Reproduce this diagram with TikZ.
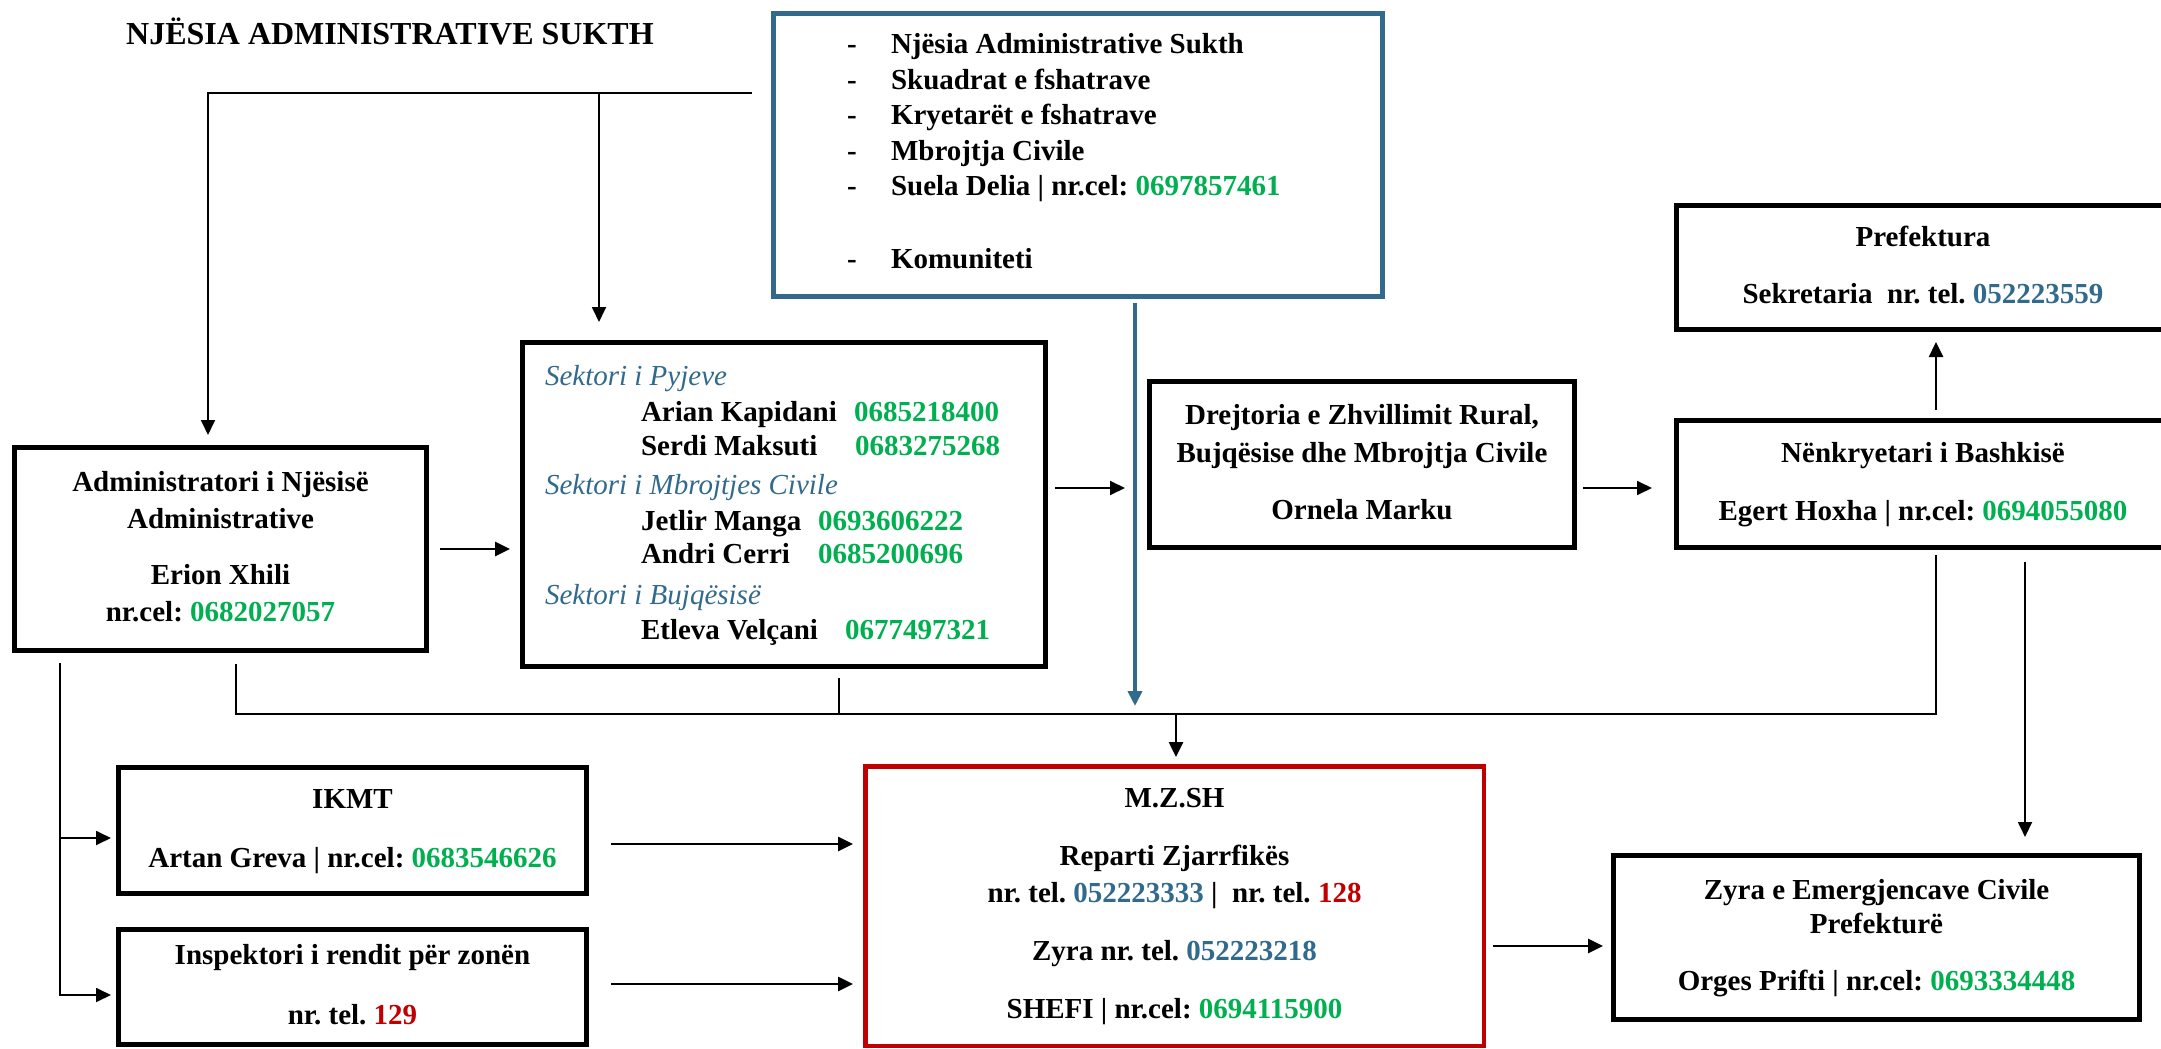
\documentclass[tikz,border=0pt]{standalone}
\usepackage{fontspec}
\setmainfont{Liberation Serif}
\usetikzlibrary{arrows.meta,calc}
\definecolor{bluec}{RGB}{49,106,140}
\definecolor{greenc}{RGB}{0,176,80}
\definecolor{redc}{RGB}{192,0,0}
\newcommand{\gn}[1]{\textcolor{greenc}{#1}}
\newcommand{\bln}[1]{\textcolor{bluec}{#1}}
\newcommand{\rdn}[1]{\textcolor{redc}{#1}}
\frenchspacing
\begin{document}
\begin{tikzpicture}[x=1pt,y=-1pt,
  every node/.style={inner sep=0pt, outer sep=0pt, font=\fontsize{29}{36}\selectfont\bfseries\frenchspacing},
  box/.style={draw=black, line width=5pt},
  redbox/.style={draw=redc, line width=4.5pt},
  bluebox/.style={draw=bluec, line width=5pt},
  tip/.style={-{Triangle[length=15pt,width=14pt]}},
  thinc/.style={line width=1.8pt},
  medc/.style={line width=2.6pt},
  bluec/.style={line width=4pt, draw=bluec, -{Triangle[length=15pt,width=14pt]}},
]
\useasboundingbox (0,0) rectangle (2161,1049);
\fill[white] (0,0) rectangle (2161,1049);
\clip (0,0) rectangle (2161,1049);

% title
\node[anchor=base] (title) at (390,44.5) {\fontsize{32}{36}\selectfont NJËSIA ADMINISTRATIVE SUKTH};

% top blue box
\node[bluebox, minimum width=609pt, minimum height=283pt] (blue) at (1078,155) {};
\node[anchor=base west] (bluetxt) at (847,54) {\begin{tabular}[t]{@{}l@{}}
\makebox[44pt][l]{-}Njësia Administrative Sukth\\[-0.5pt]
\makebox[44pt][l]{-}Skuadrat e fshatrave\\[-0.5pt]
\makebox[44pt][l]{-}Kryetarët e fshatrave\\[-0.5pt]
\makebox[44pt][l]{-}Mbrojtja Civile\\[-0.5pt]
\makebox[44pt][l]{-}Suela Delia | nr.cel: \gn{0697857461}\\[37pt]
\makebox[44pt][l]{-}Komuniteti
\end{tabular}};

% administrator
\node[box, minimum width=412pt, minimum height=203pt] (admin) at (220.5,549) {\begin{tabular}{@{}c@{}}
Administratori i Njësisë\\[1pt]
Administrative\\[20pt]
Erion Xhili\\[1pt]
nr.cel: \gn{0682027057}
\end{tabular}};

% sectors
\node[box, minimum width=523pt, minimum height=324pt] (sek) at (784,504.5) {};
\node[anchor=base west] (sektxt) at (545,385) {\begin{tabular}[t]{@{}l@{}}
{\mdseries\itshape\color{bluec}Sektori i Pyjeve}\\
\hspace*{96pt}\makebox[213pt][l]{Arian Kapidani}\gn{0685218400}\\[-2pt]
\hspace*{96pt}\makebox[214pt][l]{Serdi Maksuti}\gn{0683275268}\\[3pt]
{\mdseries\itshape\color{bluec}Sektori i Mbrojtjes Civile}\\
\hspace*{96pt}\makebox[177pt][l]{Jetlir Manga}\gn{0693606222}\\[-3pt]
\hspace*{96pt}\makebox[177pt][l]{Andri Cerri}\gn{0685200696}\\[5pt]
{\mdseries\itshape\color{bluec}Sektori i Bujqësisë}\\[-1pt]
\hspace*{96pt}\makebox[204pt][l]{Etleva Velçani}\gn{0677497321}
\end{tabular}};

% drejtoria
\node[box, minimum width=425pt, minimum height=166pt] (drej) at (1362,464.5) {\begin{tabular}{@{}c@{}}
Drejtoria e Zhvillimit Rural,\\[2pt]
Bujqësise dhe Mbrojtja Civile\\[21pt]
Ornela Marku
\end{tabular}};

% prefektura
\node[box, minimum width=493pt, minimum height=124pt] (pref) at (1923,267.5) {\begin{tabular}{@{}c@{}}
Prefektura\\[21pt]
Sekretaria\ \ nr. tel. \bln{052223559}
\end{tabular}};

% nenkryetari
\node[box, minimum width=493pt, minimum height=127pt] (nenk) at (1923,484) {\begin{tabular}{@{}c@{}}
Nënkryetari i Bashkisë\\[22pt]
Egert Hoxha | nr.cel: \gn{0694055080}
\end{tabular}};

% IKMT
\node[box, minimum width=468pt, minimum height=126pt] (ikmt) at (352.5,830.5) {\begin{tabular}{@{}c@{}}
IKMT\\[23pt]
Artan Greva | nr.cel: \gn{0683546626}
\end{tabular}};

% Inspektori
\node[box, minimum width=468pt, minimum height=115pt] (insp) at (352.5,987) {\begin{tabular}{@{}c@{}}
Inspektori i rendit për zonën\\[24pt]
nr. tel. \rdn{129}
\end{tabular}};

% MZSH
\node[redbox, minimum width=618.5pt, minimum height=279.5pt] (mzsh) at (1174.5,906) {\begin{tabular}{@{}c@{}}
M.Z.SH\\[22pt]
Reparti Zjarrfikës\\[1pt]
nr. tel. \bln{052223333} |\ \ nr. tel. \rdn{128}\\[22pt]
Zyra nr. tel. \bln{052223218}\\[22pt]
SHEFI | nr.cel: \gn{0694115900}
\end{tabular}};

% Zyra
\node[box, minimum width=526pt, minimum height=164pt] (zyra) at (1876.5,937.5) {\begin{tabular}{@{}c@{}}
Zyra e Emergjencave Civile\\[-2pt]
Prefekturë\\[21pt]
Orges Prifti | nr.cel: \gn{0693334448}
\end{tabular}};

% ---- connectors ----
\coordinate (topR) at (752,93);
\coordinate (admIn) at ($(admin.north)+(-12.5,0)$);
\coordinate (sekIn) at ($(sek.north)+(-185,0)$);
\draw[thinc,tip,shorten >=12.5pt] (topR) -| (admIn);
\draw[thinc,tip,shorten >=20.5pt] (sekIn |- topR) -- (sekIn);

\draw[medc,tip,shorten <=13.5pt,shorten >=12.5pt] (admin.east) -- (admin.east -| sek.west);

\coordinate (sd) at ($(sek.east)+(0,-16.5)$);
\draw[thinc,tip,shorten <=9.5pt,shorten >=24.5pt] (sd) -- (sd -| drej.west);

\coordinate (dn) at ($(drej.east)+(0,23.5)$);
\draw[thinc,tip,shorten <=8.5pt,shorten >=24.5pt] (dn) -- (dn -| nenk.west);

\coordinate (np) at ($(nenk.north)+(13,0)$);
\draw[medc,tip,shorten <=10.5pt,shorten >=12.5pt] (np) -- (np |- pref.south);

\coordinate (bv) at ($(blue.south)+(57,0)$);
\draw[bluec,shorten <=6.5pt,shorten >=60.25pt] (bv) -- (bv |- mzsh.north);

\coordinate (bus) at ($(mzsh.north)+(1.5,-52.25)$);
\coordinate (admOut) at ($(admin.south)+(15.5,13.5)$);
\coordinate (nenkOut) at ($(nenk.south)+(13,7.5)$);
\coordinate (sekOut) at ($(sek.south)+(55,11.5)$);
\draw[medc] (admOut) |- (bus) -| (nenkOut);
\draw[medc] (sekOut) -- (sekOut |- bus);
\draw[medc,tip,shorten >=9.25pt] (bus) -- (bus |- mzsh.north);

\coordinate (lb) at ($(admin.south west)+(45.5,12.5)$);
\draw[thinc,tip,shorten >=7.5pt] (lb) |- ($(ikmt.west)+(0,7.5)$);
\draw[thinc,tip,shorten >=7.5pt] (lb) |- ($(insp.west)+(0,8)$);

\coordinate (im) at ($(ikmt.east)+(24.5,13.5)$);
\draw[medc,tip,shorten >=12.25pt] (im) -- (im -| mzsh.west);
\coordinate (pm) at ($(insp.east)+(24.5,-3)$);
\draw[medc,tip,shorten >=12.25pt] (pm) -- (pm -| mzsh.west);

\coordinate (mz) at ($(mzsh.east)+(9.25,40)$);
\draw[medc,tip,shorten >=10.5pt] (mz) -- (mz -| zyra.west);

\coordinate (nz) at ($(nenk.south)+(102,14.5)$);
\draw[thinc,tip,shorten >=18.5pt] (nz) -- (nz |- zyra.north);
\end{tikzpicture}
\end{document}
